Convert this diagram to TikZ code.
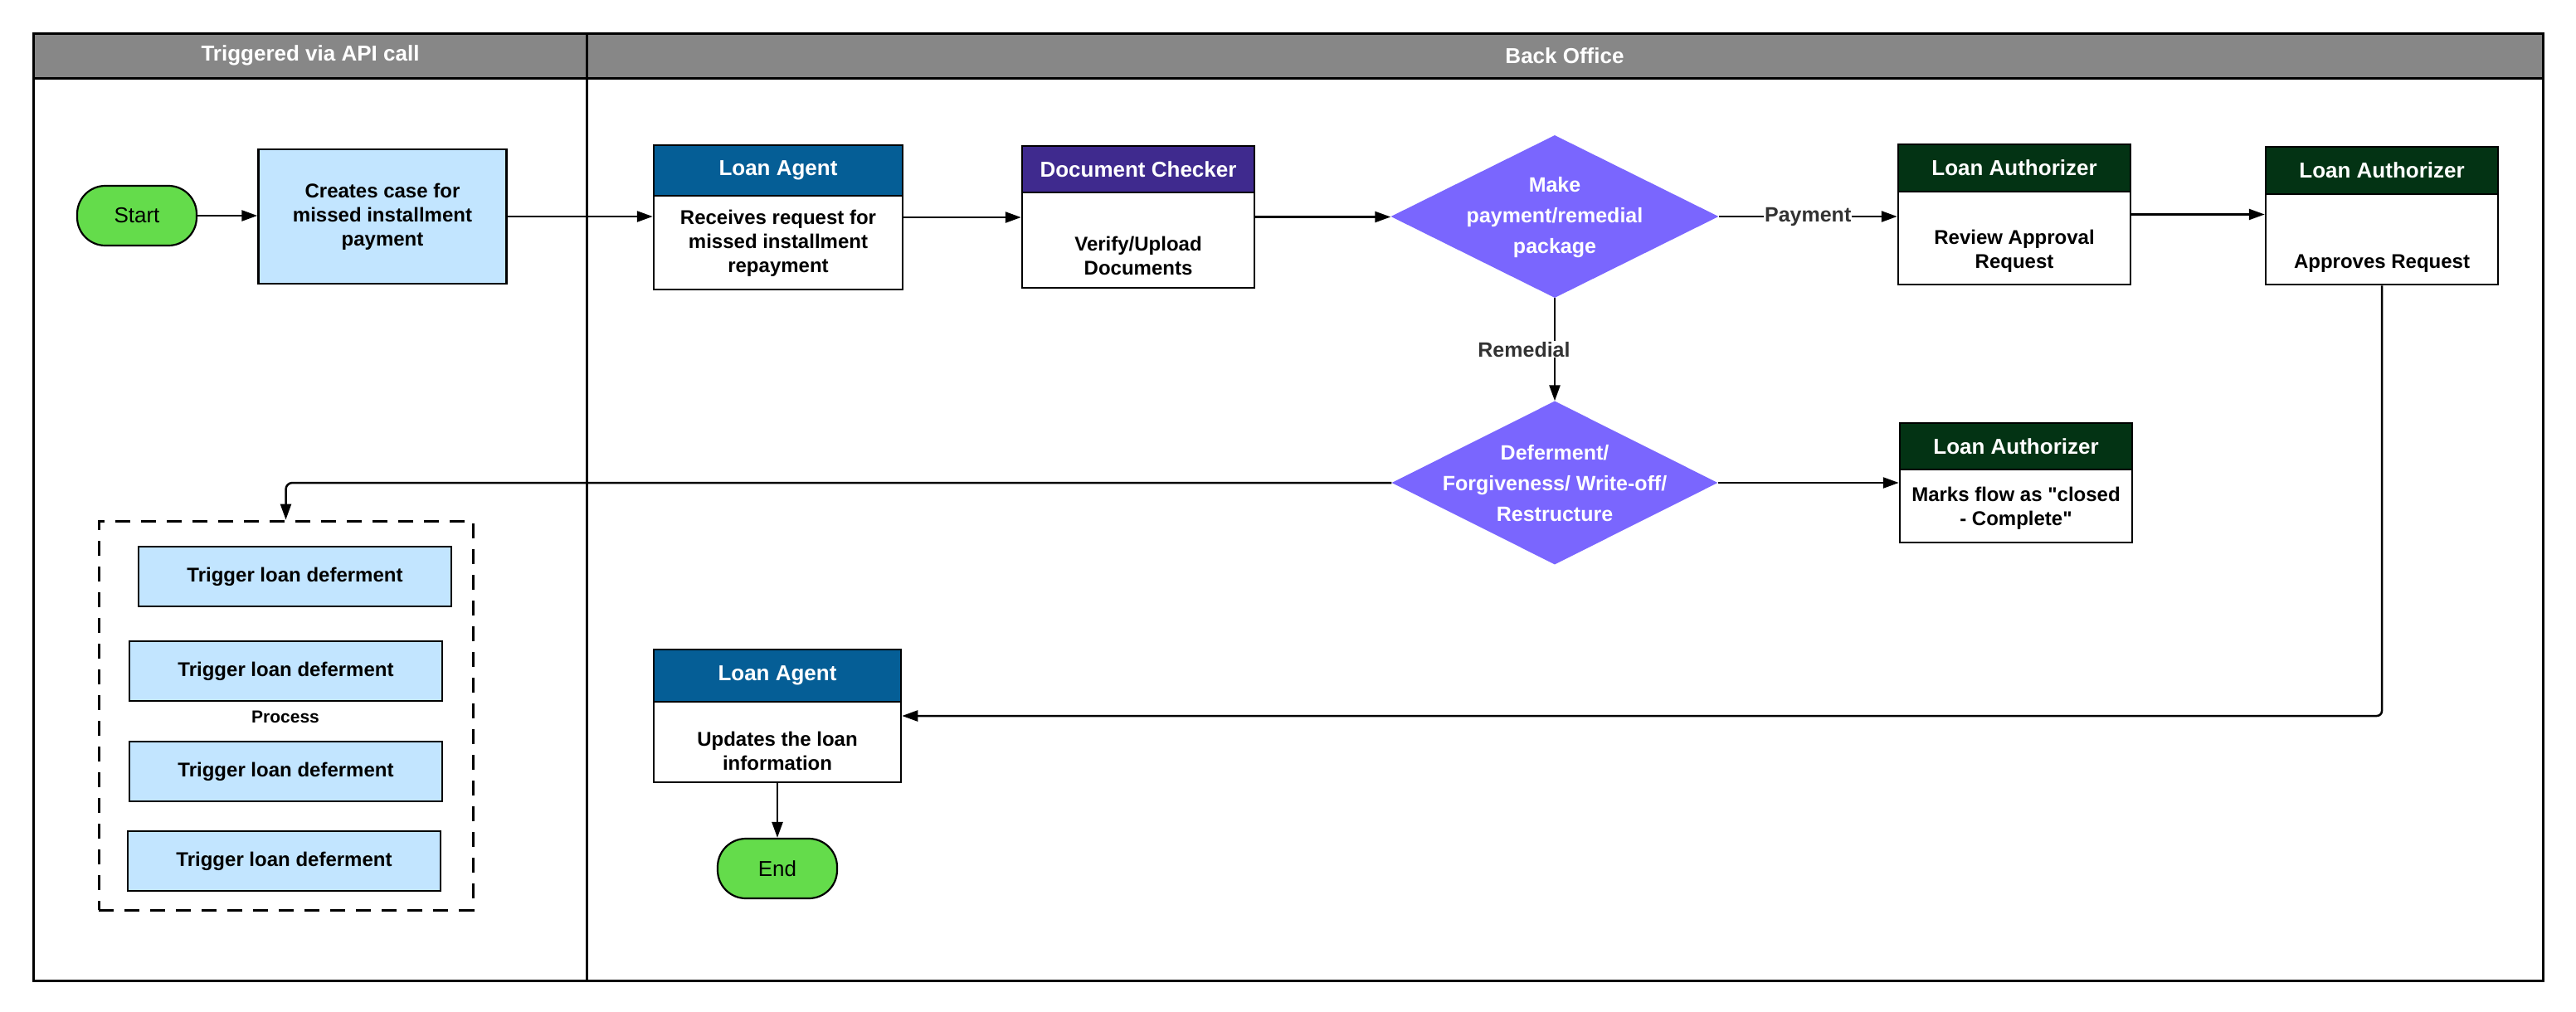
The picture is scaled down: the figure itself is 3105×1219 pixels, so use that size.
\documentclass[tikz,border=0pt]{standalone}
\usepackage{fontspec}
\setmainfont{Liberation Sans}[Ligatures=TeXOff]
\usetikzlibrary{shapes.geometric,arrows.meta}
\definecolor{hdrgray}{RGB}{135,135,135}
\definecolor{agentblue}{RGB}{5,94,150}
\definecolor{checkpurple}{RGB}{63,42,142}
\definecolor{authgreen}{RGB}{3,51,20}
\definecolor{decviolet}{RGB}{122,102,254}
\definecolor{termgreen}{RGB}{100,220,75}
\definecolor{procblue}{RGB}{194,229,255}
\definecolor{labelgray}{RGB}{51,51,51}
\begin{document}
\begin{tikzpicture}[x=1pt,y=-1pt,
  lanetxt/.style={font=\bfseries\fontsize{26}{31}\selectfont, text=white, inner sep=0},
  txt/.style={font=\bfseries\fontsize{24}{29}\selectfont, align=center, inner sep=0},
  card/.style={draw, fill=white, line width=2.5, inner sep=0},
  cardhead/.style={draw, line width=2.5, inner sep=0, anchor=north, text=white,
    font=\bfseries\fontsize{26}{31}\selectfont},
  term/.style={draw, fill=termgreen, line width=2.2, rounded corners=34,
    minimum width=144, minimum height=72, inner sep=0, font=\fontsize{26}{31}\selectfont},
  proc/.style={draw, fill=procblue, line width=2.5, inner sep=0, align=center,
    font=\bfseries\fontsize{24}{29}\selectfont},
  dec/.style={diamond, fill=decviolet, draw=none, inner sep=0},
  dectxt/.style={font=\bfseries\fontsize{25}{37}\selectfont, text=white, align=center, inner sep=0},
  lbl/.style={font=\bfseries\fontsize{25}{30}\selectfont, text=labelgray, fill=white, inner sep=1},
  flow/.style={draw, line width=2.5, -{Triangle[length=19pt,width=13pt]}}
]
\useasboundingbox (0,0) rectangle (3105,1219);

% swimlane frame
\fill[hdrgray] (40,40) rectangle (3065,94);
\draw[line width=3] (40,40) rectangle (3065,1182);
\draw[line width=3] (40,94) -- (3065,94);
\draw[line width=3] (707,40) -- (707,1182);
\node[lanetxt] (lane1) at (374,67) {Triggered via API call};
\node[lanetxt] (lane2) at (1886,67) {Back Office};

% left lane
\node[term] (start) at (165,260) {Start};
\node[proc, minimum width=299, minimum height=162] (create) at (461,261)
  {Creates case for\\missed installment\\payment};

\node[draw, line width=3, dash pattern=on 18pt off 13pt, minimum width=451, minimum height=469, inner sep=0] (grp) at (344.5,862.5) {};
\node[proc, minimum width=377, minimum height=72] (t1) at (355.5,695) {Trigger loan deferment};
\node[proc, minimum width=377, minimum height=72] (t2) at (344.5,809) {Trigger loan deferment};
\node[txt, font=\bfseries\fontsize{21}{25}\selectfont] (proc) at (344,864) {Process};
\node[proc, minimum width=377, minimum height=72] (t3) at (344.5,930) {Trigger loan deferment};
\node[proc, minimum width=377, minimum height=72] (t4) at (342.5,1038) {Trigger loan deferment};

% back office
\node[card, minimum width=300, minimum height=174] (la1) at (938,262) {};
\node[cardhead, fill=agentblue, minimum width=300, minimum height=61] (la1h) at (la1.north) {Loan Agent};
\node[txt] (la1t) at (938,293) {Receives request for\\missed installment\\repayment};

\node[card, minimum width=280, minimum height=171] (dc) at (1372,261.5) {};
\node[cardhead, fill=checkpurple, minimum width=280, minimum height=56] (dch) at (dc.north) {Document Checker};
\node[txt] (dct) at (1372,308) {Verify/Upload\\Documents};

\node[dec, minimum width=395, minimum height=196] (d1) at (1874,261) {};
\node[dectxt] (d1t) at (1874,262) {Make\\payment/remedial\\package};

\node[card, minimum width=280, minimum height=169] (la2) at (2428,258.5) {};
\node[cardhead, fill=authgreen, minimum width=280, minimum height=57] (la2h) at (la2.north) {Loan Authorizer};
\node[txt] (la2t) at (2428,303) {Review Approval\\Request};

\node[card, minimum width=280, minimum height=166] (la3) at (2871,260) {};
\node[cardhead, fill=authgreen, minimum width=280, minimum height=57] (la3h) at (la3.north) {Loan Authorizer};
\node[txt] (la3t) at (2871,318) {Approves Request};

\node[dec, minimum width=393, minimum height=197] (d2) at (1874,582) {};
\node[dectxt] (d2t) at (1874,583) {Deferment/\\Forgiveness/ Write-off/\\Restructure};

\node[card, minimum width=280, minimum height=144] (la4) at (2430,582) {};
\node[cardhead, fill=authgreen, minimum width=280, minimum height=56] (la4h) at (la4.north) {Loan Authorizer};
\node[txt] (la4t) at (2430,613) {Marks flow as "closed\\- Complete"};

\node[card, minimum width=298, minimum height=160] (la5) at (937,863) {};
\node[cardhead, fill=agentblue, minimum width=298, minimum height=63] (la5h) at (la5.north) {Loan Agent};
\node[txt] (la5t) at (937,905) {Updates the loan\\information};

\node[term] (end) at (937,1047) {End};

% connectors
\draw[flow] (start.east) -- (start.east -| create.west);
\draw[flow] (create.east) -- (create.east -| la1.west);
\draw[flow] (la1.east) -- (la1.east -| dc.west);
\draw[flow] (dc.east) -- (dc.east -| d1.west);
\draw[flow] (d1.east) -- node[lbl] {Payment} (d1.east -| la2.west);
\draw[flow] (la2.east) -- (la2.east -| la3.west);
\draw[flow] (d1.south) -- node[lbl, xshift=-37] {Remedial} (d2.north);
\draw[flow] (d2.east) -- (d2.east -| la4.west);
\draw[flow, rounded corners=8] (d2.west) -| (grp.north);
\draw[flow, rounded corners=6] (la3.south) |- (la5.east);
\draw[flow] (la5.south) -- (end.north);
\end{tikzpicture}
\end{document}
